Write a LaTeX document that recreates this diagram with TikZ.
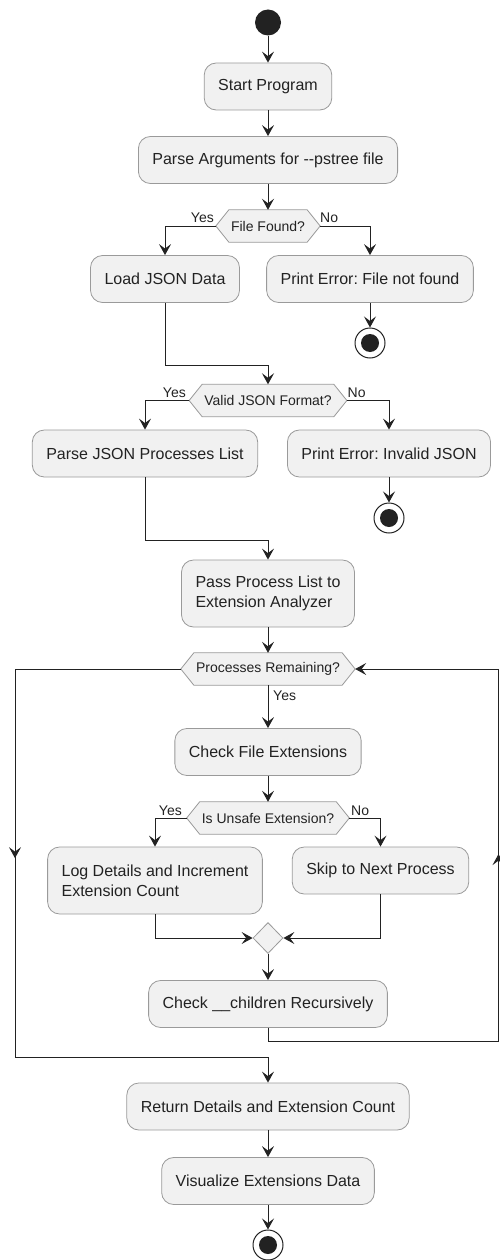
\documentclass[tikz,border=0pt]{standalone}
\usepackage{fontspec}
\setmainfont{Liberation Sans}
\usetikzlibrary{arrows.meta,shapes.geometric,decorations.markings,backgrounds}
\definecolor{boxfill}{HTML}{F1F1F1}
\definecolor{boxline}{HTML}{9A9A9A}
\definecolor{ink}{HTML}{222222}
\frenchspacing
\tikzset{
  act/.style={draw=boxline, fill=boxfill, rounded corners=12pt, inner xsep=14pt, inner ysep=3pt,
    minimum height=47pt, font=\fontsize{16}{20}\selectfont, text=ink, line width=0.8pt},
  act2/.style={act, minimum height=67pt, align=left},
  hexnode/.style={inner xsep=15pt, inner ysep=2pt, minimum height=32pt,
    font=\fontsize{14}{17}\selectfont, text=ink},
  hexshape/.style={draw=boxline, fill=boxfill, line width=0.8pt},
  lbl/.style={font=\fontsize{14}{17}\selectfont, text=ink, inner sep=0pt},
  tipx/.tip={Stealth[length=11pt,width=12pt,inset=4.5pt]},
  flow/.style={draw=ink, line width=1pt, -{tipx}},
  midarrow/.style={postaction={decorate}, decoration={markings, mark=at position #1 with {\arrow{tipx}}}},
  startdot/.style={circle, fill=ink, minimum size=26pt, inner sep=0pt},
  enddot/.style={circle, draw=ink, fill=white, line width=1pt, minimum size=30pt, inner sep=0pt,
    path picture={\fill[ink] (path picture bounding box.center) circle (9pt);}},
  mergeshape/.style={diamond, draw=boxline, fill=boxfill, line width=0.8pt, minimum width=30pt,
    minimum height=31pt, inner sep=0pt, aspect=1}
}
\newcommand\hexify[1]{%
  \begin{scope}[on background layer]
    \filldraw[hexshape] (#1.west) -- ([xshift=13pt]#1.north west) -- ([xshift=-13pt]#1.north east)
      -- (#1.east) -- ([xshift=-13pt]#1.south east) -- ([xshift=13pt]#1.south west) -- cycle;
  \end{scope}}
\begin{document}
\begin{tikzpicture}[x=1pt,y=-1pt]
\useasboundingbox (0,0) rectangle (500,1260);

\node[startdot] (st) at (268,22.5) {};
\node[act] (sp) at (268,86.5) {Start Program};
\node[act] (pa) at (268,160) {Parse Arguments for -{}-pstree file};
\node[hexnode] (ff) at (268,226) {File Found?};
\hexify{ff}
\node[act] (load) at (165,279) {Load JSON Data};
\node[act] (pe1) at (370,279) {Print Error: File not found};
\node[enddot] (e1) at (370,343) {};

\node[hexnode] (vj) at (268,400.5) {Valid JSON Format?};
\hexify{vj}
\node[act] (pj) at (145,453.5) {Parse JSON Processes List};
\node[act] (pe2) at (389,453.5) {Print Error: Invalid JSON};
\node[enddot] (e2) at (389,518) {};

\node[act2] (pass) at (268,593.5) {Pass Process List to\\Extension Analyzer};
\node[hexnode] (pr) at (268,669) {Processes Remaining?};
\hexify{pr}
\node[act] (cfe) at (268,752) {Check File Extensions};
\node[hexnode] (ue) at (268,818) {Is Unsafe Extension?};
\hexify{ue}
\node[act2] (log) at (155,880.5) {Log Details and Increment\\Extension Count};
\node[act] (skip) at (380.5,870.5) {Skip to Next Process};
\node[mergeshape] (mg) at (268,938) {};
\node[act] (cch) at (268,1004) {Check \_\_children Recursively};

\node[act] (ret) at (268,1106.5) {Return Details and Extension Count};
\node[act] (vis) at (268,1181) {Visualize Extensions Data};
\node[enddot] (e3) at (268,1245) {};

% labels
\node[lbl, anchor=base east] (l1) at (214,222.5) {Yes};
\node[lbl, anchor=base west] (l2) at (320,222.5) {No};
\node[lbl, anchor=base east] (l3) at (186,397) {Yes};
\node[lbl, anchor=base west] (l4) at (347.5,397) {No};
\node[lbl, anchor=base west] (l5) at (273,700) {Yes};
\node[lbl, anchor=base east] (l6) at (182,815) {Yes};
\node[lbl, anchor=base west] (l7) at (351,815) {No};

\coordinate (j1) at (268,365);
\coordinate (j2) at (268,540);
\coordinate (rb) at (498.5,1041);
\coordinate (lb) at (15,1057);

% connectors
\draw[flow] (st) -- (sp);
\draw[flow] (sp) -- (pa);
\draw[flow] (pa) -- (ff);
\draw[flow] (ff.west) -| (load.north);
\draw[flow] (ff.east) -| (pe1.north);
\draw[flow] (pe1) -- (e1);
\draw[flow] (load.south) |- (j1) -- (vj.north);
\draw[flow] (vj.west) -| (pj.north);
\draw[flow] (vj.east) -| (pe2.north);
\draw[flow] (pe2) -- (e2);
\draw[flow] (pj.south) |- (j2) -- (pass.north);
\draw[flow] (pass) -- (pr);
\draw[flow] (pr) -- (cfe);
\draw[flow] (cfe) -- (ue);
\draw[flow] (ue.west) -| (log.north);
\draw[flow] (ue.east) -| (skip.north);
\draw[flow] (log.south) |- (mg.west);
\draw[flow] (skip.south) |- (mg.east);
\draw[flow] (mg) -- (cch);
\draw[flow, midarrow=430.5pt] (cch.south) |- (rb) |- (pr.east);
\draw[flow, midarrow=355pt] (pr.west) -| (lb) -| (ret.north);
\draw[flow] (ret) -- (vis);
\draw[flow] (vis) -- (e3);
\end{tikzpicture}
\end{document}
